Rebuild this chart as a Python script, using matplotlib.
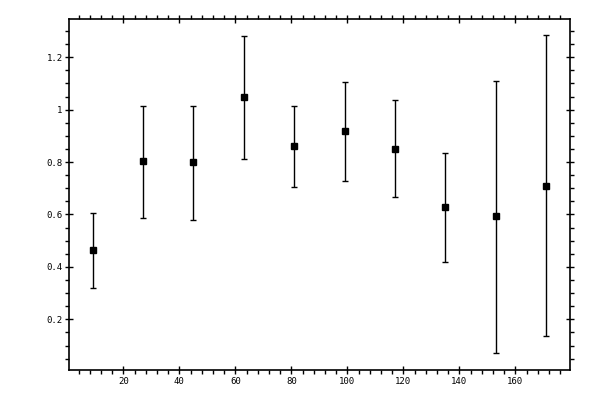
import matplotlib
matplotlib.use("Agg")
from matplotlib import pyplot as plt
from matplotlib.ticker import MultipleLocator
import numpy as np

# values
x = [9, 27, 45, 63, 81, 99, 117, 135, 153, 171]
y = [0.463, 0.803, 0.799, 1.047, 0.860, 0.918, 0.849, 0.627, 0.593, 0.708]
y_low = [0.318, 0.588, 0.578, 0.811, 0.704, 0.727, 0.666, 0.418, 0.070, 0.136]
y_high = [0.607, 1.015, 1.015, 1.280, 1.015, 1.105, 1.036, 0.834, 1.111, 1.284]

y = np.array(y)
err = [y - np.array(y_low), np.array(y_high) - y]

fig = plt.figure(figsize=(6, 4), dpi=100)
ax = fig.add_axes([0.1155, 0.075, 0.835, 0.8768])

ax.errorbar(x, y, yerr=err, fmt="s", color="black", ms=5,
            elinewidth=1, capsize=2.2, capthick=1)

ax.set_xlim(0.7, 179.6)
ax.set_ylim(0.0065, 1.345)

ax.xaxis.set_major_locator(MultipleLocator(20))
ax.xaxis.set_minor_locator(MultipleLocator(4))
ax.yaxis.set_major_locator(MultipleLocator(0.2))
ax.yaxis.set_minor_locator(MultipleLocator(0.05))
ax.set_xticks([20, 40, 60, 80, 100, 120, 140, 160])
ax.set_xticklabels(["20", "40", "60", "80", "100", "120", "140", "160"])
ax.set_yticks([0.2, 0.4, 0.6, 0.8, 1.0, 1.2])
ax.set_yticklabels(["0.2", "0.4", "0.6", "0.8", "1", "1.2"])

ax.tick_params(which="major", direction="inout", length=5.8, width=1,
               top=True, right=True, labelsize=6.5, pad=2)
ax.tick_params(which="minor", direction="out", length=3, width=1,
               top=True, right=True)
for lab in ax.get_xticklabels() + ax.get_yticklabels():
    lab.set_family("DejaVu Sans Mono")

for s in ax.spines.values():
    s.set_linewidth(1.2)

plt.savefig("out.png", dpi=100)
